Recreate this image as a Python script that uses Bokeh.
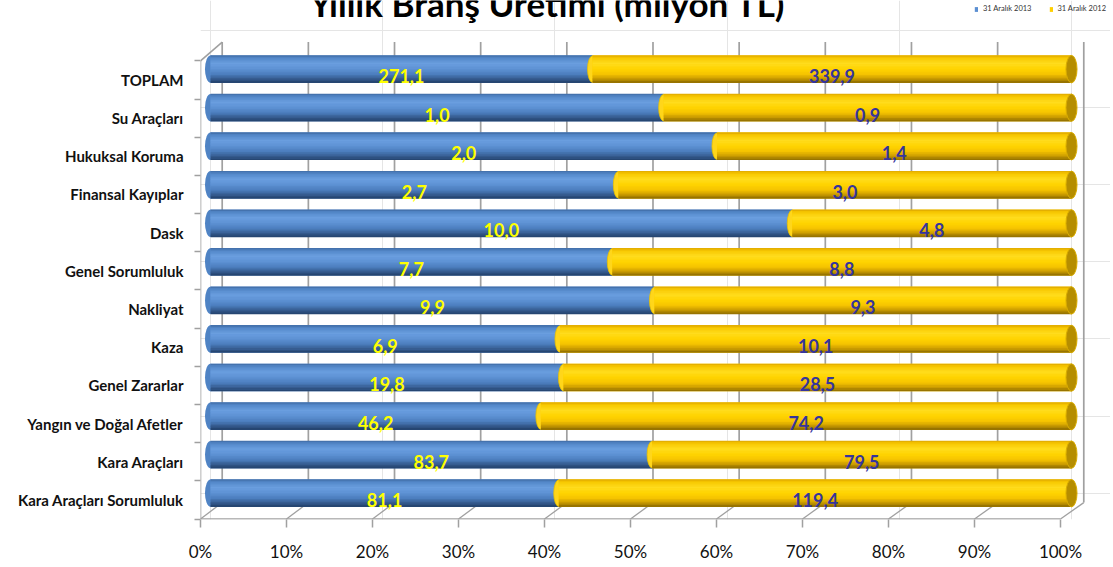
import numpy as np
from bokeh.plotting import figure
from bokeh.models import (ColumnDataSource, Range1d, LinearAxis, FixedTicker,
                          NumeralTickFormatter, Legend, LegendItem, Label)
from bokeh.core.properties import value
from bokeh.embed import file_html
from bokeh.resources import INLINE

# ---------------- data ----------------
categories = ["TOPLAM", "Su Araçları", "Hukuksal Koruma", "Finansal Kayıplar", "Dask",
              "Genel Sorumluluk", "Nakliyat", "Kaza", "Genel Zararlar",
              "Yangın ve Doğal Afetler", "Kara Araçları", "Kara Araçları Sorumluluk"]
v2013 = [271.1, 1.0, 2.0, 2.7, 10.0, 7.7, 9.9, 6.9, 19.8, 46.2, 83.7, 81.1]
v2012 = [339.9, 0.9, 1.4, 3.0, 4.8, 8.8, 9.3, 10.1, 28.5, 74.2, 79.5, 119.4]
series_names = ["31 Aralık 2013", "31 Aralık 2012"]
x_ticks = [0.0, 0.1, 0.2, 0.3, 0.4, 0.5, 0.6, 0.7, 0.8, 0.9, 1.0]
title_text = "Yıllık Branş Üretimi (milyon TL)"

# ---------------- derived ----------------
n = len(categories)
ypos = np.arange(n)[::-1].astype(float)       # TOPLAM on top
a = np.array(v2013, dtype=float)
b = np.array(v2012, dtype=float)
share = a / (a + b)
lab13 = [f"{v:.1f}".replace(".", ",") for v in v2013]
lab12 = [f"{v:.1f}".replace(".", ",") for v in v2012]

FONT = "Lato"
W, H = 1110, 564

main_x = Range1d(-0.011614, 1.045296)
main_y = Range1d(-0.68352, 12.78050)
p = figure(width=W, height=H, output_backend="svg", toolbar_location=None,
           x_range=main_x, y_range=main_y,
           x_axis_location=None, y_axis_location=None,
           min_border_left=200, min_border_right=0, min_border_top=0,
           min_border_bottom=42)
p.extra_x_ranges = {"front": Range1d(0.0, 1.05814), "back": Range1d(-0.025186, 1.031012)}
p.extra_y_ranges = {"front": Range1d(-0.51302, 13.08073), "back": Range1d(-0.94041, 12.58290)}
p.outline_line_color = None
p.background_fill_color = "white"
p.border_fill_color = "white"


def mx(v, name):
    r = p.extra_x_ranges[name]
    f = (np.asarray(v, dtype=float) - r.start) / (r.end - r.start)
    return main_x.start + f * (main_x.end - main_x.start)


def my(v, name):
    r = p.extra_y_ranges[name]
    f = (np.asarray(v, dtype=float) - r.start) / (r.end - r.start)
    return main_y.start + f * (main_y.end - main_y.start)


def screen_to_main_y(c):
    return main_y.end - c / 522.0 * (main_y.end - main_y.start)


# ---------------- 3D walls ----------------
t = np.array(x_ticks)
lo, hi = -0.5, n - 0.5
GRID = "#a0a0a0"
p.segment(x0=mx(t, "back"), y0=my(np.full_like(t, lo), "back"),
          x1=mx(t, "back"), y1=my(np.full_like(t, hi), "back"),
          line_color=GRID, line_width=1.7)
p.segment(x0=mx(t, "back"), y0=my(np.full_like(t, lo), "back"),
          x1=mx(t, "front"), y1=my(np.full_like(t, lo), "front"),
          line_color=GRID, line_width=1.3)
p.segment(x0=mx([0.0], "front"), y0=my([lo], "front"), x1=mx([1.0], "front"),
          y1=my([lo], "front"), line_color=GRID, line_width=1.6)
p.segment(x0=np.array([mx([0.0], "front")[0], mx([0.0], "front")[0]]),
          y0=np.array([my([lo], "front")[0], my([hi], "front")[0]]),
          x1=np.array([mx([0.0], "front")[0], mx([0.0], "back")[0]]),
          y1=np.array([my([hi], "front")[0], my([hi], "back")[0]]),
          line_color=GRID, line_width=1.6)


# ---------------- gradient helpers (style only) ----------------
def hex2rgb(h):
    h = h.lstrip("#")
    return np.array([int(h[i:i + 2], 16) for i in (0, 2, 4)], dtype=float)


def ramp(stops, s):
    pos = [q for q, _ in stops]
    cols = [hex2rgb(c) for _, c in stops]
    for k in range(len(pos) - 1):
        if pos[k] <= s <= pos[k + 1]:
            f = (s - pos[k]) / (pos[k + 1] - pos[k])
            c = cols[k] * (1 - f) + cols[k + 1] * f
            return "#%02x%02x%02x" % tuple(int(round(x)) for x in c)
    return stops[-1][1]


blue_stops = [(0.0, "#3e6aa3"), (0.1, "#5287c8"), (0.3, "#6a9edf"), (0.5, "#5e92d4"),
              (0.7, "#4b7dbd"), (0.86, "#365c90"), (1.0, "#22406a")]
gold_stops = [(0.0, "#dca600"), (0.1, "#f8c800"), (0.3, "#ffdc1e"), (0.5, "#ffd400"),
              (0.7, "#f5c300"), (0.86, "#c99a00"), (1.0, "#8c6a00")]

BH = 0.709
NS = 18
sh = BH / NS

src = ColumnDataSource(dict(y=ypos, share=share, zero=np.zeros(n), one=np.ones(n),
                            lab13=lab13, lab12=lab12,
                            xl13=share / 2, xl12=(1 + share) / 2,
                            ylab=ypos - 0.18))

p.ellipse(x="zero", y="y", width=11, height=BH, width_units="screen", source=src,
          fill_color="#4f83c4", line_color=None)
blue_base = p.hbar(y="y", left="zero", right="share", height=BH, source=src,
                   fill_color="#5b8fd2", line_color=None)

sy, sl, sc13, sc12 = [], [], [], []
for i in range(n):
    for j in range(NS):
        s = (j + 0.5) / NS
        sy.append(ypos[i] + BH / 2 - (j + 0.5) * sh)
        sl.append(share[i])
        sc13.append(ramp(blue_stops, s))
        sc12.append(ramp(gold_stops, s))
strip = ColumnDataSource(dict(y=sy, share=sl, zero=[0.0] * len(sy), one=[1.0] * len(sy),
                              c13=sc13, c12=sc12))
p.hbar(y="y", left="zero", right="share", height=sh * 1.25, source=strip,
       fill_color="c13", line_color=None)

p.ellipse(x="share", y="y", width=10, height=BH * 0.97, width_units="screen", source=src,
          fill_color="#ffd61a", line_color="#e8c000", line_width=0.8)
gold_base = p.hbar(y="y", left="share", right="one", height=BH, source=src,
                   fill_color="#ffd000", line_color=None)
p.hbar(y="y", left="share", right="one", height=sh * 1.25, source=strip,
       fill_color="c12", line_color=None)
p.ellipse(x="one", y="y", width=11, height=BH, width_units="screen", source=src,
          fill_color="#b58d00", line_color="#d9ac00", line_width=1)

p.text(x="xl13", y="ylab", text="lab13", source=src, text_color="#ffff00",
       text_font=value(FONT), text_font_style="bold", text_font_size="18px",
       text_align="center", text_baseline="middle")
p.text(x="xl12", y="ylab", text="lab12", source=src, text_color="#35349c",
       text_font=value(FONT), text_font_style="bold", text_font_size="18px",
       text_align="center", text_baseline="middle")

# ---------------- axes ----------------
yax = LinearAxis(y_range_name="front",
                 ticker=FixedTicker(ticks=list(ypos), minor_ticks=list(np.arange(n + 1) - 0.5)))
yax.major_label_overrides = {int(ypos[i]): categories[i] for i in range(n)}
yax.axis_line_color = None
yax.major_tick_line_color = None
yax.major_tick_out = 0
yax.major_tick_in = 0
yax.minor_tick_line_color = GRID
yax.minor_tick_line_width = 1.5
yax.minor_tick_out = 6
yax.minor_tick_in = 0
yax.major_label_standoff = 11
yax.major_label_text_font = FONT
yax.major_label_text_font_style = "bold"
yax.major_label_text_font_size = "15px"
yax.major_label_text_color = "#111111"
p.add_layout(yax, "left")

xax = LinearAxis(x_range_name="front", ticker=FixedTicker(ticks=x_ticks, minor_ticks=[]),
                 formatter=NumeralTickFormatter(format="0%"))
xax.axis_line_color = None
xax.major_tick_line_color = GRID
xax.major_tick_line_width = 1.5
xax.major_tick_out = 8
xax.major_tick_in = 0
xax.major_label_standoff = 13
xax.major_label_text_font = FONT
xax.major_label_text_font_size = "17px"
xax.major_label_text_color = "#111111"
p.add_layout(xax, "below")

# ---------------- title & legend ----------------
p.add_layout(Label(x=0.3914, y=float(screen_to_main_y(3)),
                   text=title_text, text_font=FONT, text_font_style="bold",
                   text_font_size="35px", text_align="center",
                   text_baseline="alphabetic", text_color="#000000"))

legend = Legend(items=[LegendItem(label=series_names[0], renderers=[blue_base]),
                       LegendItem(label=series_names[1], renderers=[gold_base])],
                location="top_right", orientation="horizontal")
legend.margin = 4
legend.padding = 0
legend.spacing = 17
legend.glyph_width = 4
legend.glyph_height = 6
legend.label_standoff = 5
legend.label_height = 6
legend.label_width = 10
legend.label_text_font = FONT
legend.label_text_font_size = "7.5px"
legend.label_text_color = "#333333"
legend.border_line_color = None
legend.background_fill_alpha = 0
p.add_layout(legend)

open("out.html", "w").write(file_html(p, INLINE))
